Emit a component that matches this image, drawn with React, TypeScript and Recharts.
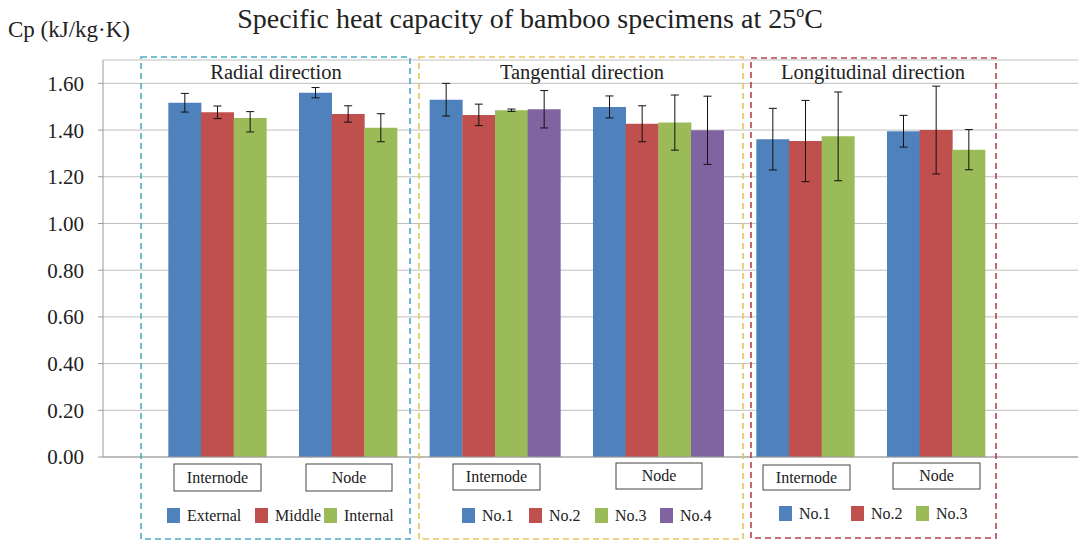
import React from 'react';
import { BarChart, Bar, XAxis, YAxis, CartesianGrid, ErrorBar, Cell } from 'recharts';

type Err = number | [number, number];

// series colours (Excel office palette)
const seriesColors = ['#4F81BD', '#C0504D', '#9BBB59', '#8064A2'];

const yTicks = [0, 0.2, 0.4, 0.6, 0.8, 1.0, 1.2, 1.4, 1.6];

// values, kJ/kg·K
const radialInternode = [1.517, 1.476, 1.452];
const radialInternodeErr: Err[] = [0.04, 0.027, [0.06, 0.027]];
const radialNode = [1.56, 1.469, 1.41];
const radialNodeErr: Err[] = [0.022, 0.035, 0.06];

const tangentialInternode = [1.53, 1.465, 1.485, 1.489];
const tangentialInternodeErr: Err[] = [0.07, 0.046, 0.005, 0.08];
const tangentialNode = [1.499, 1.427, 1.432, 1.399];
const tangentialNodeErr: Err[] = [0.047, 0.077, 0.118, 0.146];

const longitudinalInternode = [1.361, 1.353, 1.373];
const longitudinalInternodeErr: Err[] = [0.132, 0.174, 0.19];
const longitudinalNode = [1.395, 1.4, 1.316];
const longitudinalNodeErr: Err[] = [0.068, 0.188, 0.086];

const radialSeries = ['External', 'Middle', 'Internal'];
const tangentialSeries = ['No.1', 'No.2', 'No.3', 'No.4'];
const longitudinalSeries = ['No.1', 'No.2', 'No.3'];
const positionNames = ['Internode', 'Node'];
const directionNames = ['Radial direction', 'Tangential direction', 'Longitudinal direction'];

// the category axis is split into 30 equal slots, one bar per slot
const SLOT_COUNT = 30;
const groups = [
  { start: 2, values: radialInternode, errs: radialInternodeErr },
  { start: 6, values: radialNode, errs: radialNodeErr },
  { start: 10, values: tangentialInternode, errs: tangentialInternodeErr },
  { start: 15, values: tangentialNode, errs: tangentialNodeErr },
  { start: 20, values: longitudinalInternode, errs: longitudinalInternodeErr },
  { start: 24, values: longitudinalNode, errs: longitudinalNodeErr },
];

interface SlotRow {
  slot: string;
  v: number | null;
  e: Err | null;
  c: number;
}

const buildRows = (): SlotRow[] => {
  const rows: SlotRow[] = Array.from({ length: SLOT_COUNT }, (_, i) => ({ slot: 's' + i, v: null, e: null, c: 0 }));
  groups.forEach(g => {
    g.values.forEach((v, k) => {
      rows[g.start + k] = { slot: 's' + (g.start + k), v, e: g.errs[k], c: k };
    });
  });
  return rows;
};

const rows = buildRows();

const FONT = '"Liberation Serif", "Times New Roman", serif';

// overlay layout (boxes, labels, legends)
const panels = [
  {
    title: directionNames[0], titleX: 276, color: '#4BACC6',
    box: { x: 141, y: 57, w: 269, h: 482 },
    labels: [{ x: 174, y: 464, w: 87, h: 27 }, { x: 306, y: 464, w: 86, h: 27 }],
    legend: radialSeries, squares: [167, 255, 324], legendY: 508,
  },
  {
    title: directionNames[1], titleX: 582, color: '#E9C25B',
    box: { x: 419, y: 57, w: 324, h: 482 },
    labels: [{ x: 453, y: 464, w: 87, h: 26 }, { x: 616, y: 463, w: 86, h: 26 }],
    legend: tangentialSeries, squares: [462, 529, 595, 660], legendY: 508,
  },
  {
    title: directionNames[2], titleX: 873, color: '#B5434A',
    box: { x: 751, y: 58, w: 245, h: 480 },
    labels: [{ x: 763, y: 465, w: 87, h: 25 }, { x: 893, y: 463, w: 87, h: 26 }],
    legend: longitudinalSeries, squares: [779, 851, 916], legendY: 506,
  },
];

export default function App() {
  return (
    <div style={{ position: 'relative', width: 1078, height: 543, overflow: 'hidden', background: '#fff' }}>
      <style>{'body{margin:0}'}</style>
      <BarChart
        width={1083}
        height={543}
        data={rows}
        margin={{ top: 60, right: 0, left: 0, bottom: 56 }}
        barCategoryGap={0}
        barGap={0}
      >
        <CartesianGrid vertical={false} stroke="#BFBFBF" />
        <XAxis dataKey="slot" tick={false} tickLine={false} height={30} axisLine={{ stroke: '#9A9A9A' }} />
        <YAxis
          width={103}
          domain={[0, 1.7]}
          ticks={yTicks}
          interval={0}
          tickFormatter={(v: number) => v.toFixed(2)}
          tick={{ fill: '#222', fontSize: 21, fontFamily: FONT }}
          tickSize={5}
          tickMargin={14}
          tickLine={{ stroke: '#9A9A9A' }}
          axisLine={{ stroke: '#9A9A9A' }}
        />
        <Bar dataKey="v" isAnimationActive={false}>
          {rows.map((r, i) => (
            <Cell key={i} fill={seriesColors[r.c]} />
          ))}
          <ErrorBar dataKey="e" width={4} stroke="#111" strokeWidth={1} />
        </Bar>
      </BarChart>

      <svg width={1078} height={543} style={{ position: 'absolute', left: 0, top: 0, pointerEvents: 'none' }}>
        <text x={8} y={37} fontFamily={FONT} fontSize={23} fill="#222">Cp (kJ/kg·K)</text>
        <text x={530} y={28} textAnchor="middle" fontFamily={FONT} fontSize={28} fill="#222">
          Specific heat capacity of bamboo specimens at 25<tspan fontSize={16} dy={-11}>o</tspan><tspan dy={11}>C</tspan>
        </text>
        {panels.map((p, pi) => (
          <g key={pi}>
            <rect x={p.box.x} y={p.box.y} width={p.box.w} height={p.box.h} fill="none"
              stroke={p.color} strokeWidth={1.6} strokeDasharray="6 4" />
            <text x={p.titleX} y={79} textAnchor="middle" fontFamily={FONT} fontSize={20.5} fill="#222">{p.title}</text>
            {p.labels.map((l, li) => (
              <g key={li}>
                <rect x={l.x} y={l.y} width={l.w} height={l.h} fill="#fff" stroke="#444" strokeWidth={1} />
                <text x={l.x + l.w / 2} y={l.y + l.h / 2 + 5} textAnchor="middle" fontFamily={FONT} fontSize={16} fill="#222">
                  {positionNames[li]}
                </text>
              </g>
            ))}
            {p.legend.map((name, k) => (
              <g key={k}>
                <rect x={p.squares[k]} y={p.legendY} width={13} height={15} fill={seriesColors[k]} />
                <text x={p.squares[k] + 20} y={p.legendY + 13} fontFamily={FONT} fontSize={16} fill="#222">{name}</text>
              </g>
            ))}
          </g>
        ))}
      </svg>
    </div>
  );
}
